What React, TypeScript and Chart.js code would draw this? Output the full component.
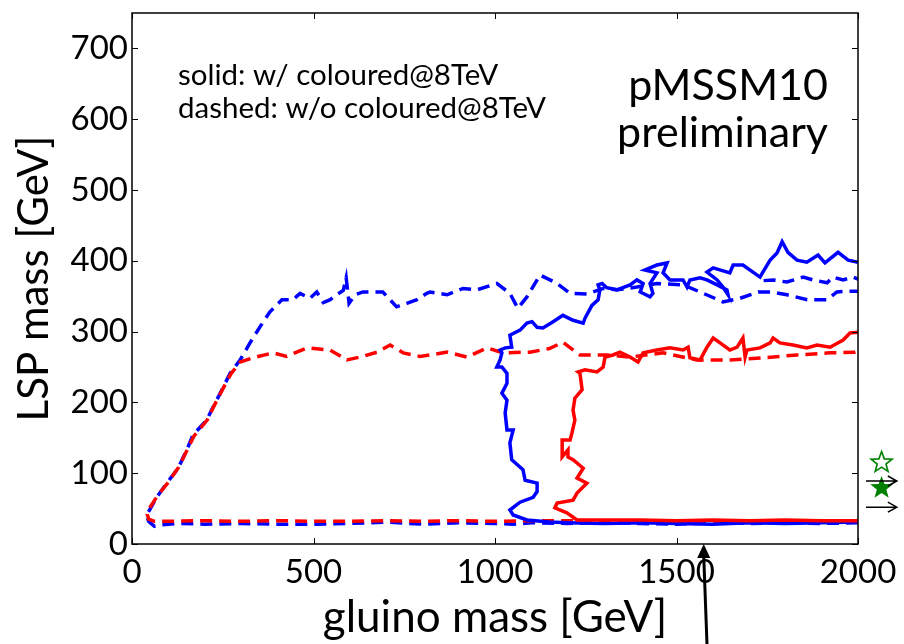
import React, { useEffect, useRef } from 'react';
import { Chart, registerables } from 'chart.js';

Chart.register(...registerables);

type P = [number, number];

// Axis ranges and tick values
const xTickValues = [0, 500, 1000, 1500, 2000];
const yTickValues = [0, 100, 200, 300, 400, 500, 600, 700];
const xRange: P = [0, 2000];
const yRange: P = [0, 750];

// 95% CL contours in the (gluino mass, LSP mass) plane, GeV
// dashed: without coloured@8TeV constraints
const blueDashed: P[] = [
  [2000, 30], [1900, 29], [1800, 30], [1700, 29], [1600, 30], [1500, 28], [1400, 29], [1300, 30],
  [1200, 29], [1100, 30], [1050, 28], [1000, 29], [900, 30], [800, 28], [700, 31], [600, 29],
  [500, 28], [400, 28], [300, 29], [200, 28], [130, 29], [80, 27], [62, 25], [46, 32], [40, 40],
  [44, 44], [68, 66], [96, 86], [127, 107], [151, 133], [168, 154], [206, 175], [223, 193],
  [247, 217], [270, 241], [298, 260], [325, 284], [353, 307], [380, 328], [413, 345], [443, 345],
  [463, 354], [490, 347], [509, 356], [527, 341], [546, 345], [564, 352], [582, 358], [590, 376],
  [598, 340], [615, 352], [636, 356], [691, 356], [729, 335], [757, 340], [785, 345], [812, 354],
  [821, 356], [868, 352], [912, 361], [950, 359], [1005, 368], [1041, 354], [1063, 333], [1088, 349],
  [1124, 380], [1171, 368], [1207, 354], [1253, 353], [1298, 361], [1336, 359], [1391, 363],
  [1446, 368], [1518, 366], [1565, 356], [1628, 342], [1675, 347], [1725, 356], [1760, 356],
  [1804, 352], [1860, 345], [1915, 345], [1942, 356], [1973, 357], [2000, 357],
];
const blueDashedUpper: P[] = [
  [1740, 372], [1766, 373], [1804, 370], [1849, 377], [1876, 373], [1915, 369], [1931, 377],
  [1959, 373], [1986, 377], [2000, 374],
];
const redDashed: P[] = [
  [2000, 31], [1900, 32], [1800, 32], [1700, 31], [1600, 32], [1500, 32], [1400, 32], [1300, 31],
  [1200, 33], [1100, 33], [1000, 32], [900, 33], [800, 32], [700, 33], [600, 32], [500, 32],
  [400, 33], [300, 32], [200, 33], [100, 32], [62, 32], [46, 35], [42, 42],
  [50, 52], [70, 68], [98, 86], [128, 108], [152, 133], [170, 152], [207, 175], [224, 193],
  [248, 217], [272, 240], [298, 257], [333, 263], [388, 270], [426, 265], [482, 277], [545, 274],
  [592, 260], [636, 265], [675, 271], [711, 281], [747, 270], [793, 265], [821, 267], [868, 271],
  [923, 264], [978, 277], [1022, 270], [1096, 271], [1150, 276], [1187, 285], [1234, 267],
  [1308, 267], [1372, 264], [1463, 270], [1556, 260], [1647, 260], [1738, 263], [1832, 267],
  [1923, 270], [1992, 271], [2000, 272],
];
// solid: with coloured@8TeV constraints
const blueSolid: P[] = [
  [2000, 31], [1900, 30], [1800, 29], [1700, 30], [1600, 28], [1500, 29], [1400, 30], [1300, 29],
  [1200, 30], [1150, 31], [1088, 34], [1050, 41], [1041, 48], [1069, 59], [1105, 66], [1116, 74],
  [1116, 86], [1083, 90], [1077, 105], [1046, 119], [1041, 143], [1050, 161], [1033, 161],
  [1028, 185], [1033, 203], [1019, 213], [1033, 227], [1033, 241], [1019, 250], [1005, 250],
  [1014, 260], [1019, 270], [1014, 274], [1028, 277], [1046, 278], [1041, 295], [1069, 302],
  [1088, 312], [1102, 314], [1116, 306], [1132, 305], [1160, 314], [1187, 323], [1215, 316],
  [1243, 312], [1248, 319], [1267, 337], [1284, 345], [1289, 359], [1284, 366], [1295, 368],
  [1308, 362], [1336, 359], [1372, 366], [1391, 373], [1408, 368], [1400, 356], [1427, 349],
  [1435, 354], [1427, 368], [1446, 383], [1413, 387], [1446, 394], [1474, 397], [1463, 383],
  [1482, 373], [1518, 373], [1529, 363], [1537, 373], [1565, 376], [1584, 373], [1612, 366],
  [1639, 359], [1642, 352], [1628, 363], [1612, 373], [1584, 384], [1601, 390], [1647, 383],
  [1656, 394], [1683, 394], [1730, 377], [1738, 384], [1758, 401], [1777, 411], [1791, 427],
  [1807, 412], [1832, 401], [1859, 398], [1890, 408], [1909, 397], [1945, 412], [1973, 401],
  [2000, 398],
];
const redSolid: P[] = [
  [2000, 33], [1900, 33], [1800, 34], [1700, 33], [1600, 34], [1500, 33], [1400, 34], [1300, 34],
  [1226, 34], [1198, 44], [1165, 51], [1171, 58], [1215, 62], [1226, 72], [1253, 86], [1226, 93],
  [1243, 107], [1215, 119], [1201, 123], [1201, 133], [1185, 123], [1185, 147], [1207, 147],
  [1212, 157], [1220, 175], [1215, 189], [1220, 206], [1240, 218], [1234, 241], [1229, 243],
  [1248, 246], [1281, 243], [1298, 250], [1303, 264], [1325, 267], [1344, 271], [1372, 264],
  [1394, 257], [1408, 270], [1446, 274], [1482, 277], [1518, 274], [1532, 278], [1537, 263],
  [1565, 260], [1584, 278], [1601, 291], [1620, 284], [1647, 274], [1667, 278], [1683, 291],
  [1689, 264], [1694, 274], [1730, 277], [1758, 284], [1766, 291], [1785, 284], [1821, 281],
  [1859, 277], [1887, 281], [1923, 278], [1959, 288], [1978, 298], [2000, 299],
];

// Benchmark markers just right of the frame
const starOpen: P = [2065, 115];
const starFilled: P = [2065, 79];
const sideArrows: P[] = [[2022, 89], [2022, 52]];
const sideArrowEnd = 2107;
// Arrow pointing up at the gluino mass axis
const gluinoArrowTop = 1575;
const gluinoArrowBottom = 1584;

const legendLines = ['solid: w/ coloured@8TeV', 'dashed: w/o coloured@8TeV'];
const labelLines = ['pMSSM10', 'preliminary'];

const FONT = 'Lato, "Open Sans", sans-serif';

const toXY = (pts: P[]) => pts.map(([x, y]) => ({ x, y }));

function drawStar(ctx: CanvasRenderingContext2D, cx: number, cy: number, rOut: number, rIn: number) {
  ctx.beginPath();
  for (let i = 0; i < 10; i++) {
    const r = i % 2 === 0 ? rOut : rIn;
    const a = -Math.PI / 2 + (i * Math.PI) / 5;
    const px = cx + r * Math.cos(a);
    const py = cy + r * Math.sin(a);
    if (i === 0) ctx.moveTo(px, py);
    else ctx.lineTo(px, py);
  }
  ctx.closePath();
}

const framePlugin = {
  id: 'frameAndNotes',
  afterDraw(chart: any) {
    const { ctx, chartArea: a, scales } = chart;
    const xs = scales.x;
    const ys = scales.y;
    ctx.save();
    // frame
    ctx.strokeStyle = '#000';
    ctx.lineWidth = 1.5;
    ctx.strokeRect(a.left, a.top, a.right - a.left, a.bottom - a.top);
    // inward ticks on all four sides
    ctx.lineWidth = 1;
    const tl = 6;
    ctx.beginPath();
    xTickValues.forEach((v) => {
      const px = Math.round(xs.getPixelForValue(v)) + 0.5;
      ctx.moveTo(px, a.bottom);
      ctx.lineTo(px, a.bottom - tl);
      ctx.moveTo(px, a.top);
      ctx.lineTo(px, a.top + tl);
    });
    yTickValues.forEach((v) => {
      const py = Math.round(ys.getPixelForValue(v)) + 0.5;
      ctx.moveTo(a.left, py);
      ctx.lineTo(a.left + tl, py);
      ctx.moveTo(a.right, py);
      ctx.lineTo(a.right - tl, py);
    });
    ctx.stroke();

    // in-frame notes
    ctx.fillStyle = '#000';
    ctx.textBaseline = 'alphabetic';
    ctx.textAlign = 'left';
    ctx.font = `29.5px ${FONT}`;
    ctx.fillText(legendLines[0], a.left + 46, a.top + 72);
    ctx.fillText(legendLines[1], a.left + 46, a.top + 105);
    ctx.textAlign = 'right';
    ctx.font = `43px ${FONT}`;
    ctx.fillText(labelLines[0], a.right - 30, a.top + 87);
    ctx.fillText(labelLines[1], a.right - 30, a.top + 134);

    // benchmark stars
    ctx.strokeStyle = '#008000';
    ctx.fillStyle = '#008000';
    ctx.lineWidth = 1.6;
    drawStar(ctx, xs.getPixelForValue(starOpen[0]), ys.getPixelForValue(starOpen[1]), 11, 4.6);
    ctx.stroke();
    drawStar(ctx, xs.getPixelForValue(starFilled[0]), ys.getPixelForValue(starFilled[1]), 12, 5);
    ctx.fill();

    // side arrows
    ctx.strokeStyle = '#000';
    ctx.lineWidth = 1.5;
    sideArrows.forEach(([x0, y]) => {
      const px0 = xs.getPixelForValue(x0);
      const px1 = xs.getPixelForValue(sideArrowEnd);
      const py = ys.getPixelForValue(y);
      ctx.beginPath();
      ctx.moveTo(px0, py);
      ctx.lineTo(px1, py);
      ctx.moveTo(px1 - 9, py - 5);
      ctx.lineTo(px1, py);
      ctx.lineTo(px1 - 9, py + 5);
      ctx.stroke();
    });

    // arrow from below pointing at the gluino axis
    const tipX = xs.getPixelForValue(gluinoArrowTop);
    const tipY = ys.getPixelForValue(0);
    const baseX = xs.getPixelForValue(gluinoArrowBottom);
    ctx.lineWidth = 3;
    ctx.beginPath();
    ctx.moveTo(baseX, chart.height);
    ctx.lineTo(tipX, tipY + 12);
    ctx.stroke();
    ctx.fillStyle = '#000';
    ctx.beginPath();
    ctx.moveTo(tipX, tipY);
    ctx.lineTo(tipX - 6.5, tipY + 14);
    ctx.lineTo(tipX + 6.5, tipY + 14);
    ctx.closePath();
    ctx.fill();
    ctx.restore();
  },
};

const line = (data: P[], color: string, dashed: boolean) => ({
  data: toXY(data),
  borderColor: color,
  backgroundColor: color,
  borderWidth: 3.5,
  borderDash: dashed ? [12, 7] : [],
  showLine: true,
  fill: false,
  tension: 0,
  pointRadius: 0,
  pointHoverRadius: 0,
});

export default function App() {
  const canvasRef = useRef<HTMLCanvasElement | null>(null);

  useEffect(() => {
    if (!canvasRef.current) return;
    const chart = new Chart(canvasRef.current, {
      type: 'scatter',
      data: {
        datasets: [
          line(redSolid, '#ff0000', false),
          line(blueSolid, '#0000ff', false),
          line(redDashed, '#ff0000', true),
          line(blueDashed, '#0000ff', true),
          line(blueDashedUpper, '#0000ff', true),
        ],
      },
      options: {
        responsive: false,
        animation: false,
        events: [],
        layout: { padding: { top: 13, right: 46, left: 0, bottom: 0 } },
        plugins: {
          legend: { display: false },
          tooltip: { enabled: false },
        },
        scales: {
          x: {
            type: 'linear',
            min: xRange[0],
            max: xRange[1],
            grid: { display: false, drawTicks: false },
            border: { display: false },
            afterBuildTicks: (s: any) => {
              s.ticks = xTickValues.map((value) => ({ value }));
            },
            afterFit: (s: any) => {
              s.height = 100;
              s.paddingLeft = 0;
              s.paddingRight = 0;
            },
            ticks: {
              color: '#000',
              padding: 9,
              maxRotation: 0,
              autoSkip: false,
              font: { family: FONT, size: 33 },
              callback: (v: any) => String(v),
            },
            title: {
              display: true,
              text: 'gluino mass [GeV]',
              color: '#000',
              font: { family: FONT, size: 44 },
              padding: { top: 0, bottom: 0 },
            },
          },
          y: {
            type: 'linear',
            min: yRange[0],
            max: yRange[1],
            grid: { display: false, drawTicks: false },
            border: { display: false },
            afterBuildTicks: (s: any) => {
              s.ticks = yTickValues.map((value) => ({ value }));
            },
            afterFit: (s: any) => {
              s.width = 132;
              s.paddingTop = 0;
              s.paddingBottom = 0;
            },
            ticks: {
              color: '#000',
              padding: 4,
              autoSkip: false,
              font: { family: FONT, size: 33 },
              callback: (v: any) => String(v),
            },
            title: {
              display: true,
              text: 'LSP mass [GeV]',
              color: '#000',
              font: { family: FONT, size: 42 },
              padding: { top: 9, bottom: 0 },
            },
          },
        },
      },
      plugins: [framePlugin],
    });
    return () => chart.destroy();
  }, []);

  return (
    <div style={{ position: 'absolute', left: 0, top: 0, width: 904, height: 644, background: '#fff' }}>
      <canvas ref={canvasRef} width={904} height={644} />
    </div>
  );
}
